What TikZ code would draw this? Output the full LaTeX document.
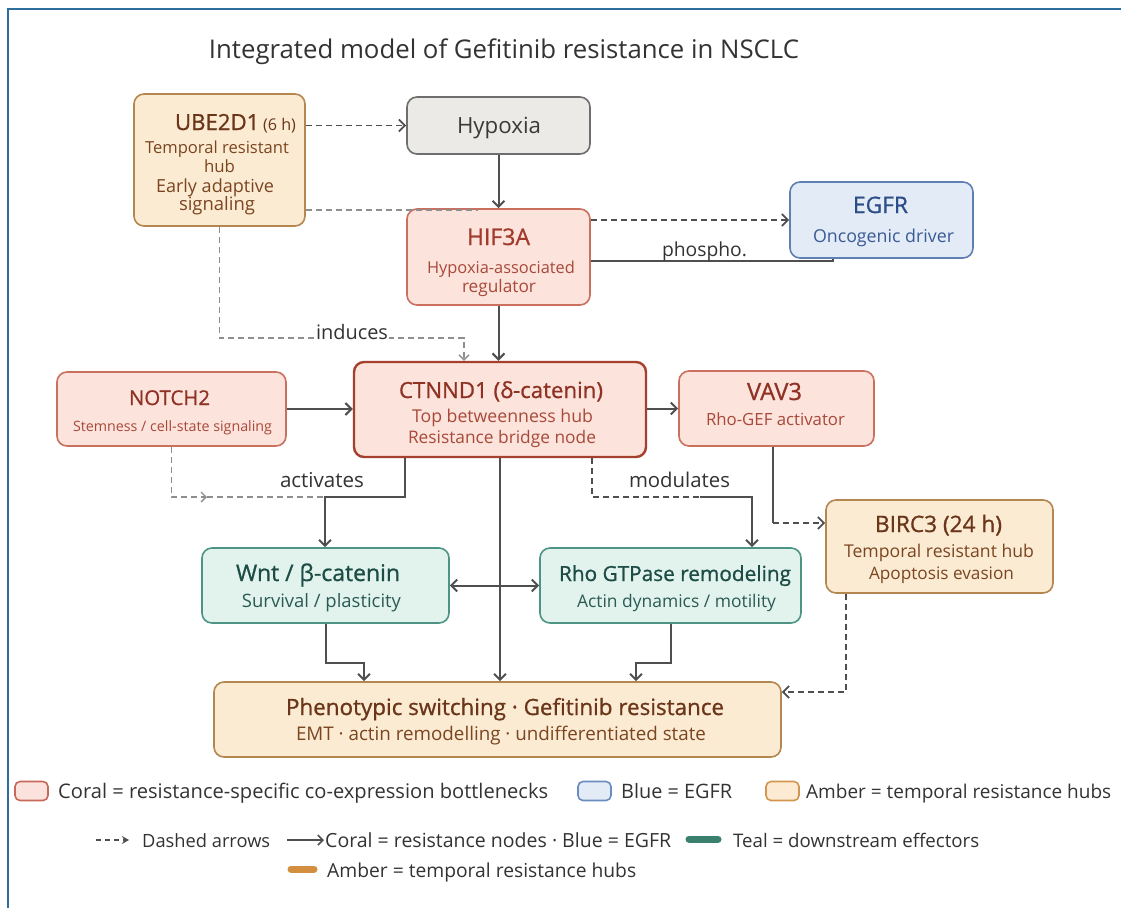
\documentclass[tikz,border=0pt]{standalone}
\usepackage{fontspec}
\setmainfont{Open Sans}
\newfontfamily\medfont{Open Sans}[FakeBold=0.9]
\usetikzlibrary{arrows.meta,calc}
\newcommand{\fitw}[2]{\resizebox{#1pt}{!}{#2}}
\definecolor{coralF}{HTML}{FCE3DC}
\definecolor{coralL}{HTML}{C9705F}
\definecolor{coralT}{HTML}{A23B2C}
\definecolor{coralS}{HTML}{A8493A}
\definecolor{ctL}{HTML}{A5402F}
\definecolor{ctT}{HTML}{8F3224}
\definecolor{amberF}{HTML}{FCEBD3}
\definecolor{amberL}{HTML}{B48650}
\definecolor{amberT}{HTML}{6A3518}
\definecolor{amberS}{HTML}{7A4520}
\definecolor{grayF}{HTML}{ECEAE6}
\definecolor{grayL}{HTML}{6E6E6E}
\definecolor{grayT}{HTML}{3A3A3A}
\definecolor{blueF}{HTML}{E2EBF6}
\definecolor{blueL}{HTML}{5E80B4}
\definecolor{blueT}{HTML}{2D4D88}
\definecolor{blueS}{HTML}{3A5A96}
\definecolor{tealF}{HTML}{E2F3EE}
\definecolor{tealL}{HTML}{4E9484}
\definecolor{tealT}{HTML}{1D4C45}
\definecolor{tealS}{HTML}{2B5A52}
\definecolor{lineC}{HTML}{4F4F4F}
\definecolor{lightC}{HTML}{8E8E8E}
\definecolor{textC}{HTML}{333333}
\definecolor{frameC}{HTML}{2E6E9C}
\definecolor{swCoralF}{HTML}{FBE2DC}
\definecolor{swCoralL}{HTML}{C8685A}
\definecolor{swBlueF}{HTML}{E3EBF6}
\definecolor{swBlueL}{HTML}{6A8CC0}
\definecolor{swAmberF}{HTML}{FDEAD2}
\definecolor{swAmberL}{HTML}{D3964F}
\definecolor{tealStroke}{HTML}{3B7F6E}
\definecolor{amberStroke}{HTML}{D48E40}
\tikzset{
  box/.style={draw, rounded corners=10pt, line width=1.6pt, inner sep=0pt},
  coralbox/.style={box, fill=coralF, draw=coralL},
  ctbox/.style={box, fill=coralF, draw=ctL, line width=2.4pt},
  amberbox/.style={box, fill=amberF, draw=amberL},
  graybox/.style={box, fill=grayF, draw=grayL},
  bluebox/.style={box, fill=blueF, draw=blueL},
  tealbox/.style={box, fill=tealF, draw=tealL},
  txt/.style={anchor=base, inner sep=0pt, font=\fontsize{20}{24}\selectfont},
  htxt/.style={txt, font=\fontsize{20}{24}\medfont},
  ltxt/.style={txt, anchor=base west, text=textC},
  lbl/.style={txt, text=textC, fill=white, inner xsep=1pt, inner ysep=1pt},
  tip/.style={-{Straight Barb[length=6pt,width=12pt]}},
  sline/.style={draw=lineC, line width=2pt},
  sarr/.style={sline, tip},
  dline/.style={draw=lineC, line width=1.8pt, dash pattern=on 6pt off 4pt},
  darr/.style={dline, tip},
  ldash/.style={draw=lightC, line width=1.4pt, dash pattern=on 6pt off 4pt},
  ldarr/.style={ldash, -{Straight Barb[length=5pt,width=10pt]}},
  swatch/.style={draw, rounded corners=5pt, line width=1.6pt, minimum width=33pt, minimum height=19pt, inner sep=0pt},
}
\begin{document}
\begin{tikzpicture}[x=1pt,y=-1pt]
\fill[white] (0,0) rectangle (1121,908);
\useasboundingbox (0,0) rectangle (1121,908);
\draw[frameC, line width=2pt] (1121,9) -- (8,9) -- (8,908);

% title
\node[txt, text=textC] (title) at (504,58) {\fitw{590}{Integrated model of Gefitinib resistance in NSCLC}};

% boxes
\node[amberbox, minimum width=171pt, minimum height=132pt] (ube) at (219.5,160) {};
\node[graybox, minimum width=183pt, minimum height=57pt] (hyp) at (498.5,125.5) {};
\node[coralbox, minimum width=183pt, minimum height=96pt] (hif) at (498.5,257) {};
\node[bluebox, minimum width=183pt, minimum height=76pt] (egfr) at (881.5,220) {};
\node[ctbox, minimum width=292pt, minimum height=95pt] (ct) at (500,409.5) {};
\node[coralbox, minimum width=229pt, minimum height=74pt] (notch) at (171.5,409) {};
\node[coralbox, minimum width=195pt, minimum height=75pt] (vav) at (776.5,408.5) {};
\node[amberbox, minimum width=227pt, minimum height=93pt] (birc) at (939.5,546.5) {};
\node[tealbox, minimum width=247pt, minimum height=75pt] (wnt) at (325.5,585.5) {};
\node[tealbox, minimum width=261pt, minimum height=75pt] (rho) at (670.5,585.5) {};
\node[amberbox, minimum width=567pt, minimum height=75pt] (phen) at (497.5,719.5) {};

% box texts
\node[htxt, text=amberT] (ubeT) at (235.5,130) {\fitw{121}{\fontsize{22}{24}\selectfont UBE2D1\,{\fontsize{16}{20}\setmainfont{Open Sans}\normalfont\fontsize{16}{20}\selectfont(6 h)}}};
\node[txt, text=amberS] (ubeS1) at (217,153) {\fitw{144}{Temporal resistant}};
\node[txt, text=amberS] (ubeS2) at (219.5,172) {\fitw{31}{hub}};
\node[txt, text=amberS] (ubeS3) at (215,192) {\fitw{118}{Early adaptive}};
\node[txt, text=amberS] (ubeS4) at (217,210) {\fitw{76}{signaling}};

\node[txt, text=grayT] (hypT) at (499,133) {\fitw{84}{Hypoxia}};

\node[htxt, text=coralT] (hifT) at (498.5,245) {\fitw{63}{HIF3A}};
\node[txt, text=coralS] (hifS1) at (501,273) {\fitw{148}{Hypoxia-associated}};
\node[txt, text=coralS] (hifS2) at (499,292.5) {\fitw{74}{regulator}};

\node[htxt, text=blueT] (egfrT) at (880.5,213) {\fitw{55}{EGFR}};
\node[txt, text=blueS] (egfrS) at (883.5,242) {\fitw{141}{Oncogenic driver}};

\node[htxt, text=ctT] (ctT1) at (501,398) {\fitw{204}{CTNND1 (δ-catenin)}};
\node[txt, text=coralS] (ctS1) at (502.5,422.5) {\fitw{181}{Top betweenness hub}};
\node[txt, text=coralS] (ctS2) at (502,443) {\fitw{188}{Resistance bridge node}};

\node[htxt, text=ctT] (notchT) at (169.5,405) {\fitw{81}{NOTCH2}};
\node[txt, text=coralS] (notchS) at (172.5,431) {\fitw{199}{Stemness / cell-state signaling}};

\node[htxt, text=ctT] (vavT) at (774.5,400) {\fitw{55}{VAV3}};
\node[txt, text=coralS] (vavS) at (775.5,425) {\fitw{139}{Rho-GEF activator}};

\node[htxt, text=amberT] (bircT) at (938.5,532) {\fitw{127}{BIRC3 (24 h)}};
\node[txt, text=amberS] (bircS1) at (939,557) {\fitw{190}{Temporal resistant hub}};
\node[txt, text=amberS] (bircS2) at (941.5,579) {\fitw{145}{Apoptosis evasion}};

\node[htxt, text=tealT] (wntT) at (318,581) {\fitw{164}{Wnt / β-catenin}};
\node[txt, text=tealS] (wntS) at (321.5,607) {\fitw{159}{Survival / plasticity}};

\node[htxt, text=tealT] (rhoT) at (675,581) {\fitw{232}{Rho GTPase remodeling}};
\node[txt, text=tealS] (rhoS) at (676.5,607) {\fitw{199}{Actin dynamics / motility}};

\node[htxt, text=amberT] (phenT) at (505,715) {\fitw{438}{Phenotypic switching · Gefitinib resistance}};
\node[txt, text=amberS] (phenS) at (501,740) {\fitw{410}{EMT · actin remodelling · undifferentiated state}};

% bend coordinates
\coordinate (ubeA) at (305,210);
\coordinate (ubeB) at (478,210);
\coordinate (ind) at (464,338);
\coordinate (phc) at (833,261);
\coordinate (ctx1) at (405,0);
\coordinate (j1) at (325,497);
\coordinate (na) at (207,497);
\coordinate (ctx2) at (592,0);
\coordinate (m1) at (700,497);
\coordinate (m2) at (752,497);
\coordinate (vx) at (773,523);
\coordinate (b1) at (846,692);
\coordinate (w1) at (364,663);
\coordinate (r1) at (636,663);

% connectors
\draw[darr] (ube.east |- hyp.west) -- (hyp.west);
\draw[sarr] (hyp.south) -- (hif.north);
\draw[ldash] (ube.east |- ubeA) -- (ubeB);
\draw[darr] (hif.east |- egfr.west) -- (egfr.west);
\draw[sline] (hif.east |- phc) -- (phc) -- (phc |- egfr.south);
\node[lbl, fill=none] (phos) at (704.5,256) {\fitw{85}{phospho.}};
\draw[sarr] (hif.south) -- (hif.south |- ct.north);
\draw[ldarr] (ube.south) |- (ind) -- (ind |- ct.north);
\node[lbl] (indL) at (352,339) {\fitw{72}{induces}};
\draw[sarr] (notch.east) -- (ct.west |- notch.east);
\draw[sarr] (ct.east |- vav.west) -- (vav.west);
\draw[ldarr] (notch.south) |- (na);
\draw[ldash] (na) -- (j1);
\draw[sarr] (ct.south -| ctx1) |- (j1) -- (j1 |- wnt.north);
\node[lbl, fill=none] (actL) at (322,487) {\fitw{84}{activates}};
\draw[sarr] (ct.south) -- (ct.south |- phen.north);
\draw[sline, {Straight Barb[length=6pt,width=12pt]}-{Straight Barb[length=6pt,width=12pt]}] (wnt.east) -- (rho.west);
\draw[dline] (ct.south -| ctx2) |- (m1);
\draw[sarr] (m1) -- (m2) -- (m2 |- rho.north);
\node[lbl, fill=none] (modL) at (679.5,487) {\fitw{101}{modulates}};
\draw[sline] (vav.south -| vx) -- (vx);
\draw[darr] (vx) -- (birc.west |- vx);
\draw[darr] (birc.south -| b1) -- (b1) -- (phen.east |- b1);
\draw[sarr] (wnt.south) |- (w1) -- (w1 |- phen.north);
\draw[sarr] (rho.south) |- (r1) -- (r1 |- phen.north);

% legend row 1
\node[swatch, fill=swCoralF, draw=swCoralL] (swC) at (31.5,791) {};
\node[ltxt] (lgC) at (58,798) {\fitw{490}{Coral = resistance-specific co-expression bottlenecks}};
\node[swatch, fill=swBlueF, draw=swBlueL] (swB) at (594.5,791) {};
\node[ltxt] (lgB) at (621,798) {\fitw{111}{Blue = EGFR}};
\node[swatch, fill=swAmberF, draw=swAmberL] (swA) at (782.5,791) {};
\node[ltxt] (lgA) at (806,798) {\fitw{305}{Amber = temporal resistance hubs}};

% legend row 2
\coordinate (lda) at (96,840);
\coordinate (ldb) at (129,840);
\draw[draw=lineC, line width=1.5pt, dash pattern=on 5pt off 4pt, -{Stealth[length=7pt,width=8pt]}] (lda) -- (ldb);
\node[ltxt] (lgD) at (142,847) {\fitw{128}{Dashed arrows}};
\coordinate (lsa) at (287,840);
\coordinate (lsb) at (324,840);
\draw[sline, line width=1.6pt, -{Straight Barb[length=5pt,width=10pt]}] (lsa) -- (lsb);
\node[ltxt] (lgS) at (325,847) {\fitw{346}{Coral = resistance nodes · Blue = EGFR}};
\coordinate (lta) at (689,839);
\coordinate (ltb) at (718,839);
\draw[tealStroke, line width=7pt, line cap=round] (lta) -- (ltb);
\node[ltxt] (lgT) at (733,847) {\fitw{246}{Teal = downstream effectors}};
% legend row 3
\coordinate (laa) at (291,869);
\coordinate (lab) at (314,869);
\draw[amberStroke, line width=7pt, line cap=round] (laa) -- (lab);
\node[ltxt] (lgA2) at (327,877) {\fitw{309}{Amber = temporal resistance hubs}};
\end{tikzpicture}
\end{document}
